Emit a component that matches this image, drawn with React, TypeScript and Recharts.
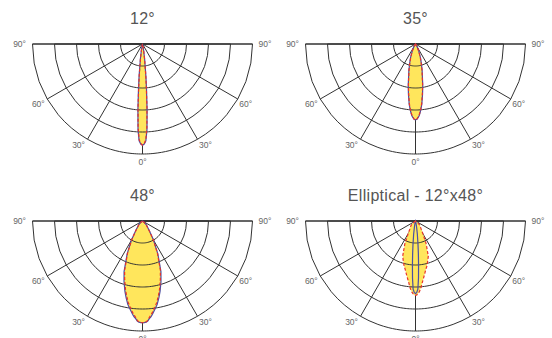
import { RadarChart, Radar, PolarGrid, PolarAngleAxis, PolarRadiusAxis } from 'recharts'

// angles measured from nadir (0° = straight down), one side only; the other side mirrors it
const HALF_ANGLES = [0, 1, 2, 3, 4, 5, 6, 8, 10, 12, 14, 17, 20, 25, 30, 35, 40, 45, 50, 60, 70, 80, 90]
const RING_LEVELS = [20, 40, 60, 80, 100]
const ANGLE_TICKS = [-90, -60, -30, 0, 30, 60, 90]

// relative intensity (% of outer ring), C0 plane (blue) and C90 plane (red dashed)
const BEAM12_C0 = [92, 91, 88, 78, 60, 42, 30, 14, 6, 2, 0.5, 0, 0, 0, 0, 0, 0, 0, 0, 0, 0, 0, 0]
const BEAM12_C90 = [92, 90.5, 87, 76, 58, 40, 28, 13, 5.5, 2, 0.5, 0, 0, 0, 0, 0, 0, 0, 0, 0, 0, 0, 0]
const BEAM35_C0 = [69, 68.5, 67, 65, 62, 58.5, 55, 46, 38, 30, 25, 18, 13, 7, 3, 1, 0, 0, 0, 0, 0, 0, 0]
const BEAM35_C90 = [69, 68.5, 66.5, 64.5, 61.5, 58, 54, 45, 37, 29.5, 24.5, 17.5, 12.5, 6.5, 3, 1, 0, 0, 0, 0, 0, 0, 0]
const BEAM48_C0 = [92.5, 92.4, 92, 91, 89, 87.5, 85.5, 81, 77, 71.5, 66, 57.5, 49, 33, 20, 11, 7, 5, 2.5, 0, 0, 0, 0]
const BEAM48_C90 = [92.5, 92.3, 91.8, 90.5, 88, 86, 84, 79.5, 75, 69.5, 64, 55.5, 47.5, 32, 19.5, 10.5, 6.5, 4.5, 2, 0, 0, 0, 0]
const ELLIPTICAL_C0 = [66, 65, 62, 52, 40, 30, 22, 12, 6, 3, 1.5, 0.5, 0, 0, 0, 0, 0, 0, 0, 0, 0, 0, 0]
const ELLIPTICAL_C90 = [67.7, 67.2, 66, 64.5, 62.5, 60, 57, 52.5, 48.5, 45, 42.5, 38, 34, 23, 13.5, 9, 7, 5.8, 3, 0, 0, 0, 0]

const TITLES = ['12°', '35°', '48°', 'Elliptical - 12°x48°']

const YELLOW = '#ffe65c'
const BLUE = '#4b4fa3'
const RED = '#e8322b'
const GRID = '#333'

function buildRows(c0: number[], c90: number[]) {
  const angles = [...HALF_ANGLES.slice(1).reverse().map((a) => -a), ...HALF_ANGLES]
  return angles.map((angle) => {
    const i = HALF_ANGLES.indexOf(Math.abs(angle))
    const row: Record<string, number> = { angle, c0: c0[i], c90: c90[i] }
    RING_LEVELS.forEach((lvl) => {
      row[`ring${lvl}`] = lvl
    })
    return row
  })
}

function AngleTick(props: any) {
  const { x, y, payload } = props
  const v = payload.value as number
  const coord = payload.coordinate ?? 270 + v
  const rad = (-coord * Math.PI) / 180
  const ex = x - 8 * Math.cos(rad)
  const ey = y - 8 * Math.sin(rad)
  const side = v < 0 ? -1 : 1
  let anchor: 'start' | 'middle' | 'end' = v < 0 ? 'end' : 'start'
  let tx = ex
  let ty = ey
  if (v === 0) {
    anchor = 'middle'
    ty = ey + 11
  } else if (Math.abs(v) === 90) {
    tx = ex + (side < 0 ? -6.5 : 6)
    ty = ey + 3
  } else if (Math.abs(v) === 60) {
    tx = ex + (side < 0 ? -2.5 : 1.5)
    ty = ey + 7.8
  } else {
    tx = ex + (side < 0 ? -2.5 : 1.5)
    ty = ey + 9.2
  }
  return (
    <text x={tx} y={ty} textAnchor={anchor} fontSize={8.5} fill="#666" fontFamily="Liberation Sans, Arial, sans-serif">
      {`${Math.abs(v)}°`}
    </text>
  )
}

interface PanelProps {
  title: string
  c0: number[]
  c90: number[]
  left: number
  top: number
}

const W = 276
const H = 169
const CX = 140
const CY = 44
const R = 110

function BeamPanel({ title, c0, c90, left, top }: PanelProps) {
  const data = buildRows(c0, c90)
  const cx = left === 0 ? CX + 2.5 : CX - 0.5
  const cy = top === 0 ? CY : CY + 8
  return (
    <div style={{ position: 'absolute', left, top, width: W, height: H }}>
      <div
        style={{
          position: 'absolute',
          left: cx - 150,
          width: 300,
          top: cy - 33,
          textAlign: 'center',
          fontFamily: 'Liberation Sans, Arial, sans-serif',
          fontSize: 16,
          lineHeight: '16px',
          letterSpacing: 0.3,
          color: '#555',
        }}
      >
        {title}
      </div>
      <RadarChart
        width={W}
        height={H}
        data={data}
        cx={cx}
        cy={cy}
        outerRadius={R}
        startAngle={180}
        endAngle={360}
        margin={{ top: 0, right: 0, bottom: 0, left: 0 }}
        style={{ position: 'absolute', left: 0, top: 0 }}
      >
        <PolarAngleAxis
          dataKey="angle"
          type="number"
          domain={[-90, 90]}
          ticks={ANGLE_TICKS}
          axisLine={false}
          tickLine={false}
          tick={AngleTick}
        />
        <PolarRadiusAxis type="number" domain={[0, 100]} tick={false} axisLine={false} />
        <Radar dataKey="c90" stroke="none" fill={YELLOW} fillOpacity={1} dot={false} isAnimationActive={false} />
        <Radar dataKey="c0" stroke="none" fill={YELLOW} fillOpacity={1} dot={false} isAnimationActive={false} />
        {RING_LEVELS.map((lvl) => (
          <Radar
            key={lvl}
            dataKey={`ring${lvl}`}
            stroke={GRID}
            strokeWidth={1}
            fill="none"
            dot={false}
            isAnimationActive={false}
          />
        ))}
        <PolarGrid gridType="circle" polarRadius={[]} stroke={GRID} strokeOpacity={1} />
        <Radar dataKey="c0" stroke={BLUE} strokeWidth={1.2} fill="none" dot={false} isAnimationActive={false} />
        <Radar
          dataKey="c90"
          stroke={RED}
          strokeWidth={1.2}
          strokeDasharray="3 2"
          fill="none"
          dot={false}
          isAnimationActive={false}
        />
      </RadarChart>
    </div>
  )
}

export default function App() {
  return (
    <div style={{ position: 'absolute', left: 0, top: 0, width: 552, height: 338, background: '#fff', overflow: 'hidden' }}>
      <BeamPanel title={TITLES[0]} c0={BEAM12_C0} c90={BEAM12_C90} left={0} top={0} />
      <BeamPanel title={TITLES[1]} c0={BEAM35_C0} c90={BEAM35_C90} left={276} top={0} />
      <BeamPanel title={TITLES[2]} c0={BEAM48_C0} c90={BEAM48_C90} left={0} top={169} />
      <BeamPanel title={TITLES[3]} c0={ELLIPTICAL_C0} c90={ELLIPTICAL_C90} left={276} top={169} />
    </div>
  )
}
